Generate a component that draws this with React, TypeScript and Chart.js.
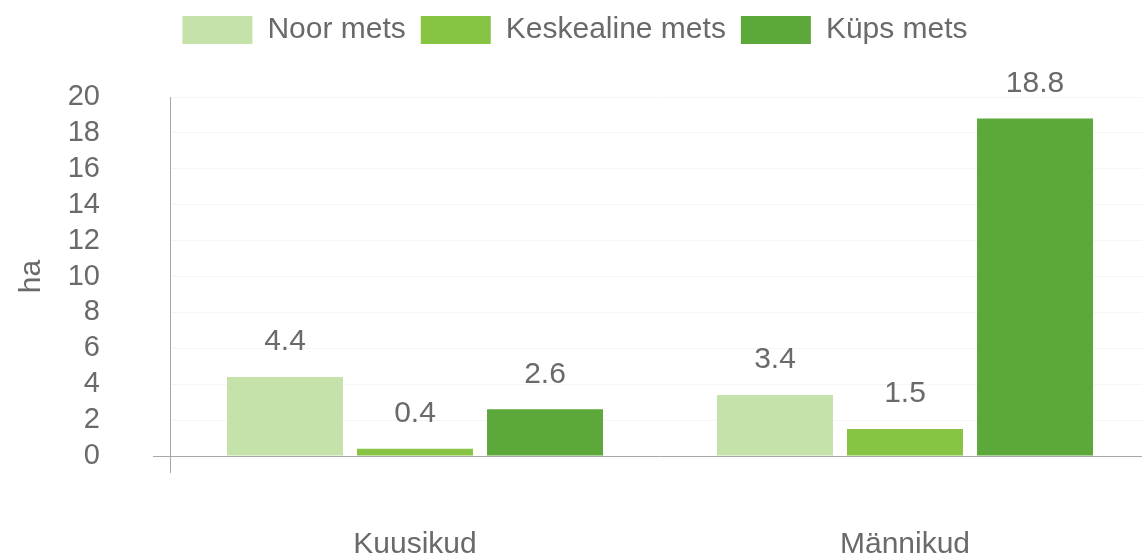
import React, { useEffect, useRef } from "react";
import { Chart, registerables } from "chart.js";

Chart.register(...registerables);

const categories = ["Kuusikud", "Männikud"];
const seriesNames = ["Noor mets", "Keskealine mets", "Küps mets"];
const noorMets = [4.4, 3.4];
const keskealineMets = [0.4, 1.5];
const kupsMets = [2.6, 18.8];
const seriesColors = ["#c6e2ab", "#88c443", "#5da83a"];
const yTicks = [0, 2, 4, 6, 8, 10, 12, 14, 16, 18, 20];
const yTitle = "ha";

const FONT = "'Liberation Sans', Arial, sans-serif";
const TEXT = "#6a6a6a";
const AXIS = "#a8a8a8";

const valueLabels = {
  id: "valueLabels",
  beforeLayout(chart: any) {
    const lg = chart.legend;
    if (lg && !lg._extraPatched) {
      const orig = lg.fit.bind(lg);
      lg.fit = () => {
        orig();
        lg.height += 42;
      };
      lg._extraPatched = true;
    }
  },
  afterDatasetsDraw(chart: any) {
    const ctx = chart.ctx;
    ctx.save();
    ctx.font = `30px ${FONT}`;
    ctx.fillStyle = TEXT;
    ctx.textAlign = "center";
    ctx.textBaseline = "middle";
    chart.data.datasets.forEach((ds: any, i: number) => {
      const meta = chart.getDatasetMeta(i);
      meta.data.forEach((el: any, j: number) => {
        ctx.fillText(String(ds.data[j]), el.x, el.y - 35);
      });
    });
    ctx.restore();
  },
};

export default function App() {
  const ref = useRef<HTMLCanvasElement | null>(null);
  useEffect(() => {
    if (!ref.current) return;
    const seriesData = [noorMets, keskealineMets, kupsMets];
    const chart = new Chart(ref.current, {
      type: "bar",
      data: {
        labels: categories,
        datasets: seriesNames.map((name, i) => ({
          label: name,
          data: seriesData[i],
          backgroundColor: seriesColors[i],
          borderWidth: 0,
          categoryPercentage: 0.796,
          barPercentage: 0.892,
        })),
      },
      options: {
        responsive: false,
        animation: false,
        layout: { padding: { left: 0, right: 10, top: 0, bottom: 0 } },
        plugins: {
          legend: {
            position: "top",
            labels: {
              boxWidth: 70,
              boxHeight: 28,
              padding: 15,
              color: TEXT,
              font: { family: FONT, size: 30 },
            },
          },
          tooltip: { enabled: false },
        },
        scales: {
          x: {
            afterFit: (s: any) => {
              s.height = 104;
              s.paddingLeft = 0;
              s.paddingRight = 0;
            },
            grid: {
              drawOnChartArea: false,
              tickLength: 17,
              tickColor: (c: any) => (c.index === 0 ? AXIS : "transparent"),
            },
            border: { color: AXIS, width: 1 },
            ticks: {
              color: TEXT,
              padding: 54,
              font: { family: FONT, size: 30 },
            },
          },
          y: {
            min: 0,
            max: 20,
            afterBuildTicks: (s: any) => {
              s.ticks = yTicks.map((v) => ({ value: v }));
            },
            afterFit: (s: any) => {
              s.width = 170;
              s.paddingTop = 0;
              s.paddingBottom = 0;
            },
            grid: {
              tickLength: 17,
              color: (c: any) => (c.tick && c.tick.value === 0 ? "transparent" : "rgba(0,0,0,0.035)"),
              tickColor: (c: any) => (c.tick && c.tick.value === 0 ? AXIS : "transparent"),
            },
            border: { color: AXIS, width: 1 },
            ticks: {
              color: TEXT,
              padding: 53,
              autoSkip: false,
              font: { family: FONT, size: 29 },
            },
            title: {
              display: true,
              text: yTitle,
              color: TEXT,
              padding: { top: 14, bottom: 0 },
              font: { family: FONT, size: 30 },
            },
          },
        },
      },
      plugins: [valueLabels],
    });
    return () => chart.destroy();
  }, []);
  return (
    <div style={{ position: "absolute", left: 0, top: 0, width: 1142, height: 560, overflow: "hidden", background: "#fff" }}>
      <canvas ref={ref} width={1160} height={560} style={{ display: "block" }} />
    </div>
  );
}
